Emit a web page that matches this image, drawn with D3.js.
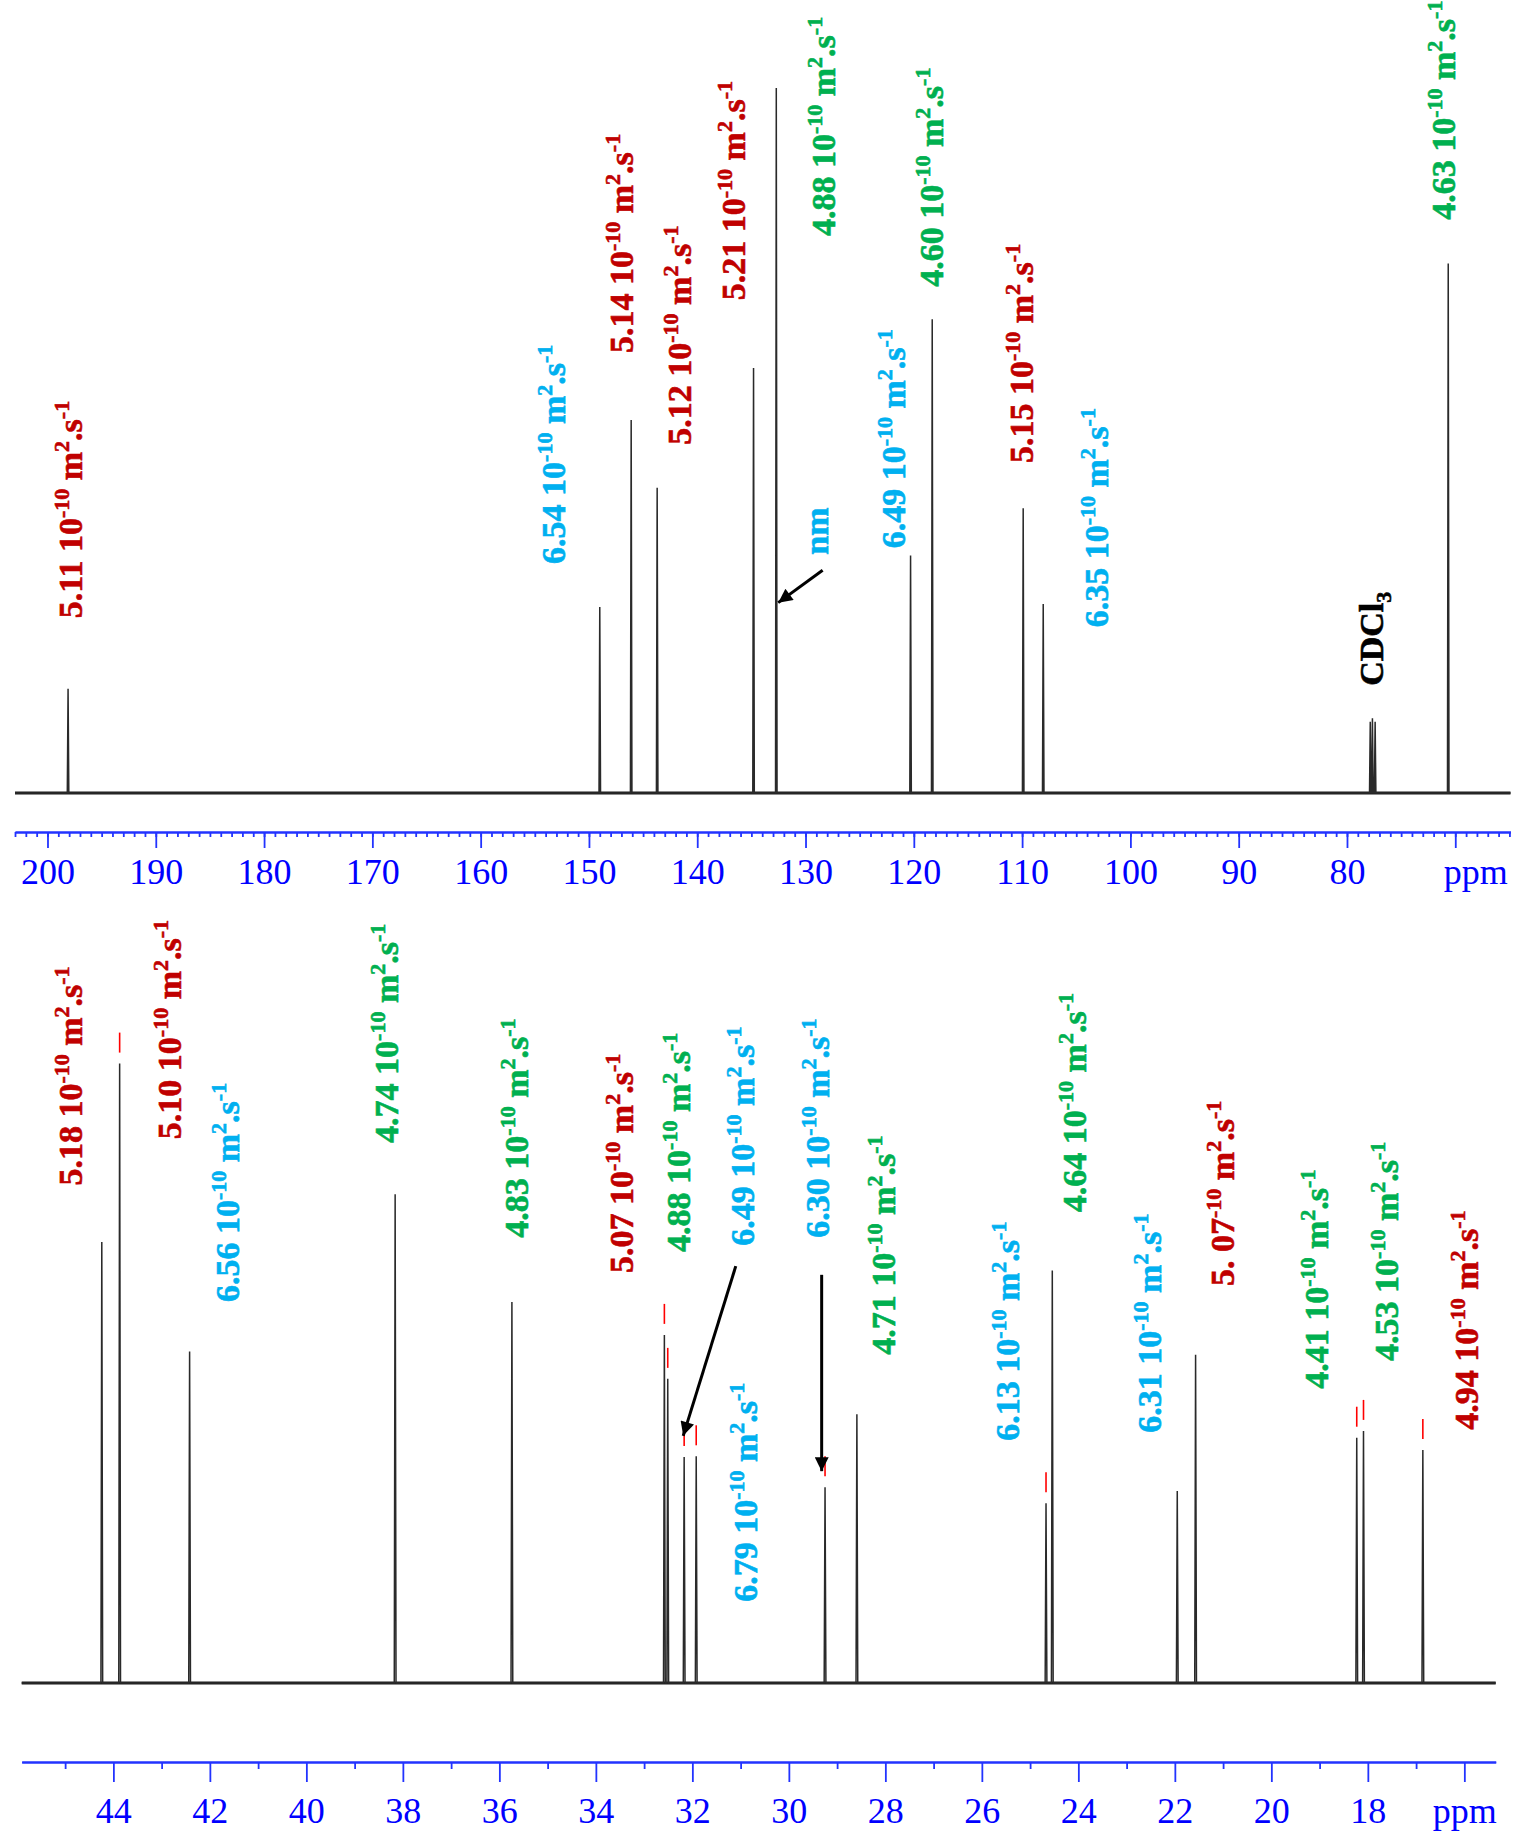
<!DOCTYPE html>
<html>
<head>
<meta charset="utf-8">
<script src="https://cdn.jsdelivr.net/npm/d3@7"></script>
<style>
  body { margin: 0; background: #fff; }
  text { white-space: pre; }
</style>
</head>
<body>
<div class="graph"></div>
<script>
// ---- data: top spectrum (aromatic / olefinic region) ----
let topPeakPpm = [198.1, 149.0, 146.1, 143.7, 134.8, 132.7, 120.3, 118.3, 109.9, 108.05, 77.85, 77.65, 77.4, 70.65]
let topPeakInt = [14.8, 26.4, 52.9, 43.3, 60.3, 100, 33.7, 67.2, 40.4, 26.8, 10.1, 10.6, 10.1, 75.1]

// ---- data: bottom spectrum (aliphatic region) ----
let botPeakPpm = [44.24, 43.87, 42.42, 38.16, 35.74, 32.58, 32.51, 32.17, 31.92, 29.25, 28.59, 24.67, 24.54, 21.95, 21.57, 18.23, 18.09, 16.86]
let botPeakInt = [71.2, 100, 53.5, 78.9, 61.5, 56.2, 49.1, 36.5, 36.6, 31.6, 43.4, 29.0, 66.6, 31.0, 53.0, 39.6, 40.7, 37.6]
// peaks carrying a red peak-pick mark
let botMarked = [43.87, 32.58, 32.51, 32.17, 31.92, 29.25, 24.67, 18.23, 18.09, 16.86]

// axis ticks
let topMajor = [200, 190, 180, 170, 160, 150, 140, 130, 120, 110, 100, 90, 80, 70]
let topMinor = d3.range(65, 204)
let botMajor = [44, 42, 40, 38, 36, 34, 32, 30, 28, 26, 24, 22, 20, 18, 16]
let botMinor = [45, 43, 41, 39, 37, 35, 33, 31, 29, 27, 25, 23, 21, 19, 17]

// diffusion coefficient labels, {..} = superscript, [..] = subscript
// kind: r = red, g = green, c = cyan, k = black
let topLabelText = ["5.11 10{-10} m{2}.s{-1}", "6.54 10{-10} m{2}.s{-1}", "5.14 10{-10} m{2}.s{-1}", "5.12 10{-10} m{2}.s{-1}",
    "5.21 10{-10} m{2}.s{-1}", "4.88 10{-10} m{2}.s{-1}", "4.60 10{-10} m{2}.s{-1}", "6.49 10{-10} m{2}.s{-1}",
    "5.15 10{-10} m{2}.s{-1}", "6.35 10{-10} m{2}.s{-1}", "CDCl[3]", "4.63 10{-10} m{2}.s{-1}", "nm"]
let topLabelKind = ["r", "c", "r", "r", "r", "g", "g", "c", "r", "c", "k", "g", "c"]
let topLabelPpm = [196.84, 152.22, 145.94, 140.58, 135.59, 127.28, 117.31, 120.82, 109.0, 102.08, 76.69, 70.04, 127.93]
let topLabelInt = [24.8, 32.5, 62.4, 49.4, 69.9, 79.0, 71.8, 34.7, 46.8, 23.5, 15.2, 81.3, 33.8]

let botLabelText = ["5.18 10{-10} m{2}.s{-1}", "5.10 10{-10} m{2}.s{-1}", "6.56 10{-10} m{2}.s{-1}", "4.74 10{-10} m{2}.s{-1}",
    "4.83 10{-10} m{2}.s{-1}", "5.07 10{-10} m{2}.s{-1}", "4.88 10{-10} m{2}.s{-1}", "6.49 10{-10} m{2}.s{-1}",
    "6.30 10{-10} m{2}.s{-1}", "4.71 10{-10} m{2}.s{-1}", "6.13 10{-10} m{2}.s{-1}", "4.64 10{-10} m{2}.s{-1}",
    "6.79 10{-10} m{2}.s{-1}", "6.31 10{-10} m{2}.s{-1}", "5. 07{-10} m{2}.s{-1}", "4.41 10{-10} m{2}.s{-1}",
    "4.53 10{-10} m{2}.s{-1}", "4.94 10{-10} m{2}.s{-1}"]
let botLabelKind = ["r", "r", "c", "g", "g", "r", "g", "c", "c", "g", "c", "g", "c", "c", "r", "g", "g", "r"]
let botLabelPpm = [44.66, 42.59, 41.40, 38.10, 35.41, 33.23, 32.05, 30.72, 29.17, 27.80, 25.24, 23.84, 30.66, 22.29, 20.78, 18.83, 17.38, 15.71]
let botLabelInt = [80.3, 87.8, 61.5, 87.2, 71.9, 66.2, 69.6, 70.6, 71.9, 53.0, 39.1, 76.0, 13.1, 40.4, 64.1, 47.5, 52.0, 40.9]

// arrows: [fromPpm, fromInt, toPpm, toInt]
let topArrows = [[128.42, 31.6, 132.52, 27.0]]
let botArrows = [[31.10, 67.3, 32.19, 39.9], [29.32, 65.9, 29.32, 34.2]]

// ---- layout ----
let svgWidth = 1515
let svgHeight = 1836
let colors = { r: '#c00000', g: '#00b050', c: '#00b0f0', k: '#000000' }
let axisBlue = '#2233ff'
let labelFont = '"Liberation Serif", "Times New Roman", serif'

let svg = d3.select('.graph')
    .append('svg')
    .attr('width', svgWidth)
    .attr('height', svgHeight)

svg.append('defs').append('marker')
    .attr('id', 'head')
    .attr('viewBox', '0 0 10 10')
    .attr('refX', 10).attr('refY', 5)
    .attr('markerUnits', 'userSpaceOnUse')
    .attr('markerWidth', 17).attr('markerHeight', 14)
    .attr('orient', 'auto')
    .append('path')
    .attr('d', 'M0,0 L10,5 L0,10 z')
    .attr('fill', '#000')

// panels
let topPanel = {
    x: d3.scaleLinear().domain([203, 64.9]).range([15, 1510.5]),
    y: d3.scaleLinear().domain([0, 100]).range([793, 88]),
    axisY: 832, major: 16, minor: 5, labelY: 26, halfWidth: 0.07
}
let botPanel = {
    x: d3.scaleLinear().domain([45.9, 15.35]).range([21.7, 1495.7]),
    y: d3.scaleLinear().domain([0, 100]).range([1683, 1063.6]),
    axisY: 1762, major: 20, minor: 7, labelY: 35, halfWidth: 0.018
}

function spectrumPoints(ppms, ints, extent, w) {
    let pts = [[extent[0], 0]]
    let order = d3.range(ppms.length).sort((a, b) => ppms[b] - ppms[a])
    order.forEach(i => {
        pts.push([ppms[i] + w, 0], [ppms[i], ints[i]], [ppms[i] - w, 0])
    })
    pts.push([extent[1], 0])
    return pts
}

function drawSpectrum(p, ppms, ints) {
    let ext = p.x.domain()
    // thick baseline stands in for the noise band
    svg.append('line')
        .attr('x1', p.x(ext[0])).attr('x2', p.x(ext[1]))
        .attr('y1', p.y(0)).attr('y2', p.y(0))
        .attr('stroke', '#1c1c1c')
        .attr('stroke-width', 3)

    let line = d3.line()
        .x(d => p.x(d[0]))
        .y(d => p.y(d[1]))

    svg.append('path')
        .attr('d', line(spectrumPoints(ppms, ints, ext, p.halfWidth)))
        .attr('fill', 'none')
        .attr('stroke', '#2a2a2a')
        .attr('stroke-width', 1.5)
}

function drawAxis(p, major, minor, ppmAt, ppmShift) {
    let g = svg.append('g')
        .attr('transform', `translate(0,${p.axisY})`)

    let minorAxis = d3.axisBottom(p.x)
        .tickValues(minor)
        .tickSize(p.minor)
        .tickSizeOuter(0)
        .tickFormat('')
    g.append('g').call(minorAxis)

    let majorAxis = d3.axisBottom(p.x)
        .tickValues(major)
        .tickSize(p.major)
        .tickSizeOuter(0)
        .tickFormat(d => d == ppmAt ? 'ppm' : d)
    let mg = g.append('g').call(majorAxis)

    g.selectAll('path.domain').attr('stroke', axisBlue).attr('stroke-width', 2.2)
    g.selectAll('.tick line').attr('stroke', axisBlue).attr('stroke-width', 1.8)
    mg.selectAll('.tick text')
        .attr('y', p.labelY)
        .attr('fill', '#0000ff')
        .style('font-family', labelFont)
        .style('font-size', '36px')
        .attr('dx', d => d == ppmAt ? ppmShift : 0)
}

function addLabel(p, text, kind, ppm, intensity) {
    let t = svg.append('text')
        .attr('transform', `translate(${p.x(ppm)},${p.y(intensity)}) rotate(-90)`)
        .attr('fill', colors[kind])
        .attr('stroke', colors[kind])
        .attr('stroke-width', 0.6)
        .style('font-family', labelFont)
        .style('font-weight', 'bold')
        .style('font-size', '34px')

    // split into normal / super / sub pieces
    let parts = text.split(/(\{[^}]*\}|\[[^\]]*\])/).filter(s => s.length)
    let shift = 0
    parts.forEach(s => {
        let span = t.append('tspan')
        let target = 0
        if (s[0] == '{') { target = -13; s = s.slice(1, -1); span.style('font-size', '22px') }
        else if (s[0] == '[') { target = 8; s = s.slice(1, -1); span.style('font-size', '22px') }
        span.attr('dy', target - shift).text(s)
        shift = target
    })
}

function drawArrows(p, arrows) {
    arrows.forEach(a => {
        svg.append('line')
            .attr('x1', p.x(a[0])).attr('y1', p.y(a[1]))
            .attr('x2', p.x(a[2])).attr('y2', p.y(a[3]))
            .attr('stroke', '#000')
            .attr('stroke-width', 3)
            .attr('marker-end', 'url(#head)')
    })
}

// top panel
drawSpectrum(topPanel, topPeakPpm, topPeakInt)
drawAxis(topPanel, topMajor, topMinor, 70, 20)
topLabelText.forEach((s, i) => addLabel(topPanel, s, topLabelKind[i], topLabelPpm[i], topLabelInt[i]))
drawArrows(topPanel, topArrows)

// bottom panel
drawSpectrum(botPanel, botPeakPpm, botPeakInt)

// red peak-pick marks just above the picked peaks
botMarked.forEach(ppm => {
    let i = botPeakPpm.indexOf(ppm)
    let top = botPanel.y(botPeakInt[i])
    svg.append('line')
        .attr('x1', botPanel.x(ppm)).attr('x2', botPanel.x(ppm))
        .attr('y1', top - 31).attr('y2', top - 11)
        .attr('stroke', '#ff0000')
        .attr('stroke-width', 1.6)
})

drawAxis(botPanel, botMajor, botMinor, 16, 0)
botLabelText.forEach((s, i) => addLabel(botPanel, s, botLabelKind[i], botLabelPpm[i], botLabelInt[i]))
drawArrows(botPanel, botArrows)
</script>
</body>
</html>
